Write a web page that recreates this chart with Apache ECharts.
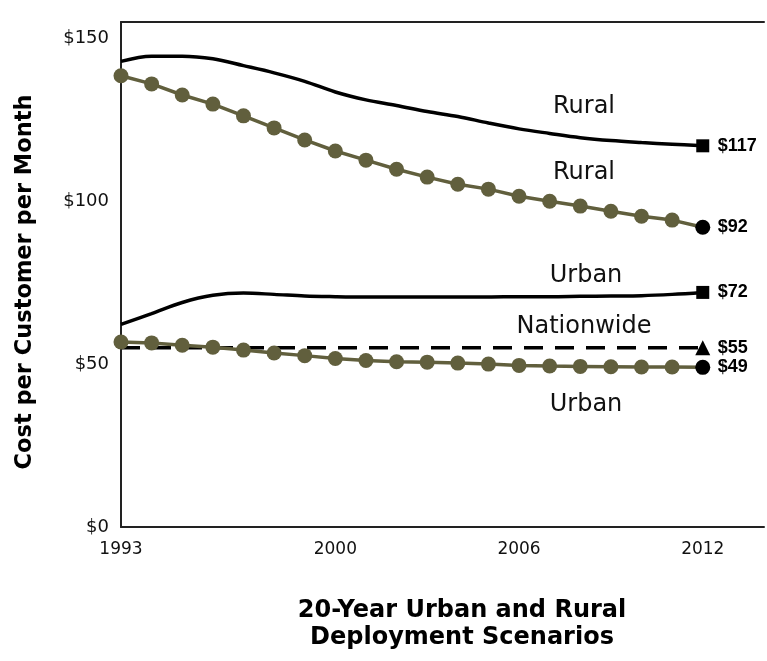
<!DOCTYPE html>
<html>
<head>
<meta charset="utf-8">
<script src="https://cdn.jsdelivr.net/npm/echarts@6/dist/echarts.min.js"></script>
<style>
html,body{margin:0;padding:0;background:#fff;}
#chart{width:767px;height:661px;}
</style>
</head>
<body>
<div id="chart"></div>
<script>
// ---- data ----
var years = [1993,1994,1995,1996,1997,1998,1999,2000,2001,2002,2003,2004,2005,2006,2007,2008,2009,2010,2011,2012];
var xTickLabels = [1993, 2000, 2006, 2012];
var yTickLabels = [0, 50, 100, 150];
var ruralCost      = [142.9,144.5,144.5,143.7,141.6,139.4,136.8,133.5,131.1,129.4,127.5,126.0,124.0,122.2,120.8,119.5,118.6,118.0,117.5,117];
var ruralLowCost   = [138.5,136.0,132.6,129.8,126.2,122.5,118.8,115.4,112.6,109.8,107.4,105.2,103.7,101.5,100.0,98.5,96.9,95.4,94.2,92];
var urbanCost      = [62.2,65.5,68.9,71.1,71.8,71.4,70.9,70.7,70.6,70.6,70.6,70.6,70.6,70.7,70.7,70.8,70.9,71.0,71.4,72];
var nationwideCost = [55,55,55,55,55,55,55,55,55,55,55,55,55,55,55,55,55,55,55,55];
var urbanLowCost   = [56.8,56.5,55.8,55.2,54.3,53.4,52.6,51.7,51.1,50.7,50.6,50.3,50.0,49.6,49.4,49.3,49.2,49.1,49.1,49];
var yAxisTitle = 'Cost per Customer per Month';
var xAxisTitle = '20-Year Urban and Rural\nDeployment Scenarios';
var annotations = [
  {text:'Rural', x:584, y:107},
  {text:'Rural', x:584, y:173},
  {text:'Urban', x:586, y:276},
  {text:'Nationwide', x:584, y:327},
  {text:'Urban', x:586, y:405}
];

var OLIVE = '#615f3d';
var last = years.length - 1;

function pairs(vals, endSymbol){
  return years.map(function(y, i){
    var d = {value:[y, vals[i]]};
    if (i === last) { d.symbol = endSymbol; d.itemStyle = {color:'#000'}; }
    return d;
  });
}
var endLabel = {
  show:true, distance:15, color:'#000', fontWeight:'bold', fontSize:18,
  fontFamily:'Liberation Sans, Arial, sans-serif',
  formatter:function(p){ return '$' + p.value[1]; }
};
function onlyLast(sym){ return function(v, p){ return p.dataIndex === last ? sym : 'none'; }; }

var chart = echarts.init(document.getElementById('chart'), null, {renderer:'canvas'});
chart.setOption({
  animation:false,
  backgroundColor:'#fff',
  grid:{left:121, top:22, right:0, bottom:134},
  xAxis:[{
    type:'value', min:1993, max:2014, interval:1,
    axisLine:{show:true, lineStyle:{color:'#222', width:2}},
    axisTick:{show:false}, splitLine:{show:false},
    axisLabel:{
      margin:14, color:'#111', fontSize:17, fontFamily:'DejaVu Sans, sans-serif',
      formatter:function(v){ return xTickLabels.indexOf(v) >= 0 ? String(v) : ''; }
    }
  },{
    type:'value', position:'top', min:1993, max:2014,
    axisLine:{show:true, onZero:false, lineStyle:{color:'#222', width:2}},
    axisTick:{show:false}, axisLabel:{show:false}, splitLine:{show:false}
  }],
  yAxis:{
    type:'value', min:0, max:155, interval:50,
    axisLine:{show:true, lineStyle:{color:'#222', width:2}},
    axisTick:{show:false}, splitLine:{show:false},
    axisLabel:{
      margin:12, color:'#111', fontSize:18, fontFamily:'DejaVu Sans, sans-serif',
      formatter:function(v){ return yTickLabels.indexOf(v) >= 0 ? '$' + v : ''; }
    }
  },
  series:[
    {
      name:'Rural (baseline)', type:'line', data:pairs(ruralCost,'rect'), smooth:0.35,
      symbol:onlyLast('rect'), symbolSize:13, showSymbol:true,
      lineStyle:{color:'#000', width:3.5}, itemStyle:{color:'#000'}, endLabel:endLabel, z:2
    },
    {
      name:'Rural', type:'line', data:pairs(ruralLowCost,'circle'),
      symbol:'circle', symbolSize:15, showSymbol:true,
      lineStyle:{color:OLIVE, width:3.5}, itemStyle:{color:OLIVE}, endLabel:endLabel, z:4
    },
    {
      name:'Urban (baseline)', type:'line', data:pairs(urbanCost,'rect'), smooth:0.35,
      symbol:onlyLast('rect'), symbolSize:13, showSymbol:true,
      lineStyle:{color:'#000', width:3.5}, itemStyle:{color:'#000'}, endLabel:endLabel, z:2
    },
    {
      name:'Nationwide', type:'line', data:pairs(nationwideCost,'triangle'),
      symbol:onlyLast('triangle'), symbolSize:15, showSymbol:true,
      lineStyle:{color:'#000', width:3.5, type:[19,12]}, itemStyle:{color:'#000'}, endLabel:endLabel, z:3
    },
    {
      name:'Urban', type:'line', data:pairs(urbanLowCost,'circle'),
      symbol:'circle', symbolSize:15, showSymbol:true,
      lineStyle:{color:OLIVE, width:3.5}, itemStyle:{color:OLIVE}, endLabel:endLabel, z:4
    }
  ],
  graphic:annotations.map(function(a){
    return {type:'text', x:a.x, y:a.y, style:{
      text:a.text, fill:'#111', font:'24px "DejaVu Sans", sans-serif',
      textAlign:'center', textVerticalAlign:'middle'
    }};
  }).concat([{
    type:'text', x:462, y:624, style:{
      text:xAxisTitle, fill:'#000', font:'bold 24px "DejaVu Sans", sans-serif',
      textAlign:'center', textVerticalAlign:'middle', lineHeight:27
    }
  },{
    type:'text', x:25, y:282, rotation:Math.PI/2, style:{
      text:yAxisTitle, fill:'#000', font:'bold 22.5px "DejaVu Sans", sans-serif',
      textAlign:'center', textVerticalAlign:'middle'
    }
  }])
});
</script>
</body>
</html>
